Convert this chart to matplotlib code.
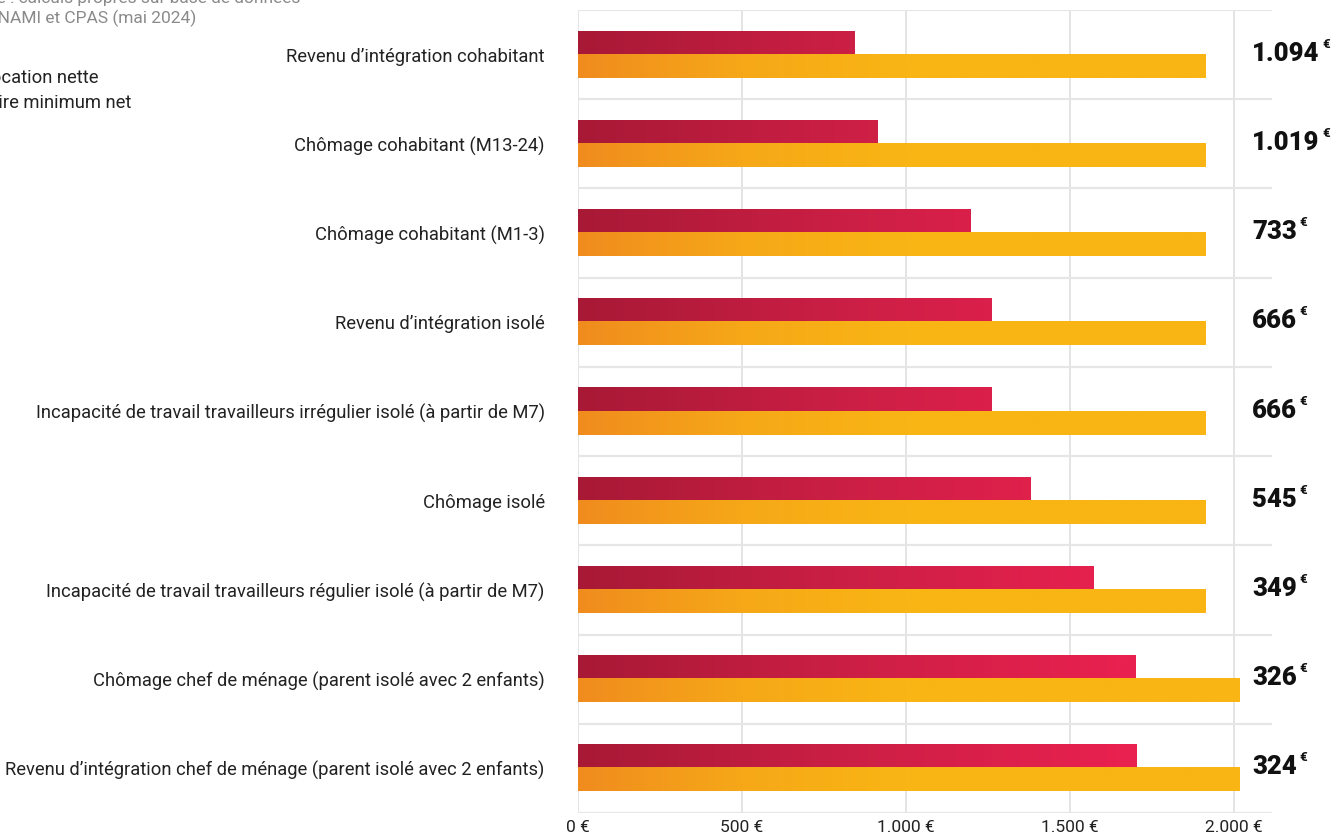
import matplotlib
matplotlib.use('Agg')
import matplotlib.pyplot as plt
from matplotlib.colors import LinearSegmentedColormap
import numpy as np

plt.rcParams.update({
    'font.family': ['Roboto', 'DejaVu Sans'],
    'text.color': '#222222',
    'xtick.color': '#222222',
    'ytick.color': '#222222',
})

# ---- data ----
categories = [
    "Revenu d\u2019intégration cohabitant",
    "Chômage cohabitant (M13-24)",
    "Chômage cohabitant (M1-3)",
    "Revenu d\u2019intégration isolé",
    "Incapacité de travail travailleurs irrégulier isolé (à partir de M7)",
    "Chômage isolé",
    "Incapacité de travail travailleurs régulier isolé (à partir de M7)",
    "Chômage chef de ménage (parent isolé avec 2 enfants)",
    "Revenu d\u2019intégration chef de ménage (parent isolé avec 2 enfants)",
]
allocation_nette = [843, 914, 1196, 1260, 1260, 1379, 1572, 1701, 1704]
salaire_minimum = [1912, 1912, 1912, 1912, 1912, 1912, 1912, 2018, 2018]
ecart_labels = ["1.094", "1.019", "733", "666", "666", "545", "349", "326", "324"]
xticks = [0, 500, 1000, 1500, 2000]
xtick_labels = ["0 €", "500 €", "1.000 €", "1.500 €", "2.000 €"]

# ---- figure ----
W, H = 1336, 839
fig = plt.figure(figsize=(W / 100, H / 100), dpi=100)
ax = fig.add_axes([578 / W, (H - 813) / H, (1272 - 578) / W, (813 - 10) / H])

XMAX = 2116

red_cmap = LinearSegmentedColormap.from_list('red', ['#A81936', '#CC1F45', '#E8214F'])
orange_cmap = LinearSegmentedColormap.from_list('orange', ['#F08C1E', '#F6A818', '#F9B514'])

bh = 0.258
off = 0.129


def grad_bar(y, value, cmap, span):
    xs = np.linspace(0, value, 300)
    cols = cmap(np.clip(xs / span, 0, 1))[np.newaxis, :, :]
    ax.imshow(cols, extent=(0, value, y + bh / 2, y - bh / 2),
              aspect='auto', interpolation='bilinear', zorder=3)


for i, (r, o) in enumerate(zip(allocation_nette, salaire_minimum)):
    grad_bar(i - off, r, red_cmap, 1650)
    grad_bar(i + off, o, orange_cmap, 1000)

ax.set_xlim(0, XMAX)
ax.set_ylim(len(categories) - 0.5, -0.5)

# grid lines
for t in xticks:
    ax.axvline(t, color='#DDDDDD', lw=1.1, zorder=1)
for k in range(len(categories) + 1):
    ax.axhline(k - 0.5, color='#E6E6E6', lw=1.6, zorder=1)

for s in ax.spines.values():
    s.set_visible(False)

ax.set_xticks(xticks)
ax.set_xticklabels(xtick_labels, fontsize=12.5)
ax.set_yticks(range(len(categories)))
ax.set_yticklabels(categories, fontsize=13.2)
ax.tick_params(axis='both', length=0)
ax.tick_params(axis='x', pad=5)
ax.tick_params(axis='y', pad=24)

# gap labels
for i, lab in enumerate(ecart_labels):
    t = ax.text(2055, i - 0.01, lab, fontsize=18.5, fontweight='heavy',
                va='center', ha='left', color='#111111', zorder=4)
    ax.annotate('€', xy=(1, 0.9), xycoords=t, xytext=(2, 0),
                textcoords='offset points', fontsize=9.5, fontweight='bold',
                va='center', ha='left', color='#111111')

# cropped source / legend text at top left
fig.text(300 / W, 1 + 1 / H, "Source : calculs propres sur base de données",
         fontsize=12.5, color='#8A8A8A', ha='right', va='center')
fig.text(196 / W, 1 - 18 / H, "INAMI et CPAS (mai 2024)",
         fontsize=12.5, color='#8A8A8A', ha='right', va='center')
fig.text(98 / W, 1 - 78 / H, "Montant de l\u2019allocation nette",
         fontsize=13.2, color='#222222', ha='right', va='center')
fig.text(131 / W, 1 - 103 / H, "Salaire minimum net",
         fontsize=13.2, color='#222222', ha='right', va='center')

fig.savefig('out.png', dpi=100)
